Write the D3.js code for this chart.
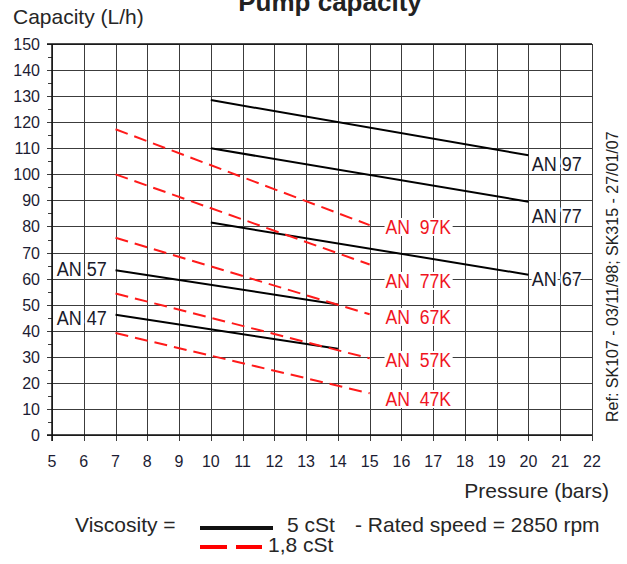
<!DOCTYPE html>
<html>
<head>
<meta charset="utf-8">
<script src="https://cdn.jsdelivr.net/npm/d3@7"></script>
<style>
  body { margin: 0; background: #fff; }
  svg { display: block; font-family: "Liberation Sans", Arial, sans-serif; }
  .grid line { stroke: #3c3c3c; stroke-width: 1; shape-rendering: crispEdges; }
  .tick-label { font-size: 16px; fill: #1c1c33; }
  .lab5 { font-size: 20px; fill: #1a1a2a; stroke: #fff; stroke-width: 5px; paint-order: stroke; stroke-linejoin: round; }
  .lab18 { font-size: 20px; fill: #f0141e; white-space: pre; }
  .txt { font-size: 21px; fill: #262626; }
</style>
</head>
<body>
<div class="chart"></div>
<script>
// 5 cSt (solid black)
const models5 = ["AN 97", "AN 77", "AN 67", "AN 57", "AN 47"];
const p5From = [10, 10, 10, 7, 7];
const p5To = [20, 20, 20, 14, 14];
const q5From = [128.5, 110, 81.5, 63.2, 46.1];
const q5To = [107.3, 89.5, 61.5, 50.1, 33.1];
const lab5X = [20.1, 20.1, 20.1, 5.15, 5.15];
const lab5Y = [104.1, 84.1, 59.8, 63.6, 44.9];

// 1,8 cSt (red dashed)
const models18 = ["AN  97K", "AN  77K", "AN  67K", "AN  57K", "AN  47K"];
const p18From = [7, 7, 7, 7, 7];
const p18To = [15, 15, 15, 15, 15];
const q18From = [117.3, 100, 75.7, 54.3, 39.1];
const q18To = [80.5, 65.4, 46.3, 29.4, 16.0];
const lab18X = [15.5, 15.5, 15.5, 15.5, 15.5];
const lab18Y = [79.8, 59.1, 45.3, 28.8, 13.8];

const xTicks = d3.range(5, 23, 1);
const yTicks = d3.range(0, 151, 10);
const yMinor = d3.range(5, 150, 10);

const width = 627, height = 564;
const x = d3.scaleLinear().domain([5, 22]).range([52, 592]);
const y = d3.scaleLinear().domain([0, 150]).range([435, 44]);

const svg = d3.select(".chart").append("svg")
    .attr("width", width)
    .attr("height", height);

// grid
const grid = svg.append("g").attr("class", "grid");
grid.selectAll("line.v")
    .data(xTicks)
  .enter().append("line")
    .attr("class", "v")
    .attr("x1", d => Math.round(x(d)) + .5).attr("x2", d => Math.round(x(d)) + .5)
    .attr("y1", y(150)).attr("y2", y(0) + 6);
grid.selectAll("line.h")
    .data(yTicks)
  .enter().append("line")
    .attr("class", "h")
    .attr("y1", d => Math.round(y(d)) + .5).attr("y2", d => Math.round(y(d)) + .5)
    .attr("x1", x(5) - 5).attr("x2", x(22));
grid.selectAll("line.m")
    .data(yMinor)
  .enter().append("line")
    .attr("class", "m")
    .attr("y1", d => Math.round(y(d)) + .5).attr("y2", d => Math.round(y(d)) + .5)
    .attr("x1", x(5) - 4).attr("x2", x(5));

// frame lines a bit heavier
svg.append("line").attr("x1", x(5)).attr("x2", x(5)).attr("y1", y(150)).attr("y2", y(0) + 6)
    .attr("stroke", "#111").attr("stroke-width", 1.5);
svg.append("line").attr("x1", x(5) - 5).attr("x2", x(22)).attr("y1", y(0)).attr("y2", y(0))
    .attr("stroke", "#111").attr("stroke-width", 1.5);
svg.append("line").attr("x1", x(5) - 5).attr("x2", x(22)).attr("y1", y(150)).attr("y2", y(150))
    .attr("stroke", "#111").attr("stroke-width", 1.5);

// tick labels
svg.selectAll("text.xt")
    .data(xTicks)
  .enter().append("text")
    .attr("class", "tick-label xt")
    .attr("x", d => x(d))
    .attr("y", 467)
    .attr("text-anchor", "middle")
    .text(d => d);
svg.selectAll("text.yt")
    .data(yTicks)
  .enter().append("text")
    .attr("class", "tick-label yt")
    .attr("x", 40)
    .attr("y", d => y(d) + 6)
    .attr("text-anchor", "end")
    .text(d => d);

// series
const lines5 = models5.map((m, i) => ({ name: m, a: [p5From[i], q5From[i]], b: [p5To[i], q5To[i]] }));
const lines18 = models18.map((m, i) => ({ name: m, a: [p18From[i], q18From[i]], b: [p18To[i], q18To[i]] }));

svg.selectAll("line.s5")
    .data(lines5)
  .enter().append("line")
    .attr("class", "s5")
    .attr("x1", d => x(d.a[0])).attr("y1", d => y(d.a[1]))
    .attr("x2", d => x(d.b[0])).attr("y2", d => y(d.b[1]))
    .attr("stroke", "#000").attr("stroke-width", 2);

svg.selectAll("line.s18")
    .data(lines18)
  .enter().append("line")
    .attr("class", "s18")
    .attr("x1", d => x(d.a[0])).attr("y1", d => y(d.a[1]))
    .attr("x2", d => x(d.b[0])).attr("y2", d => y(d.b[1]))
    .attr("stroke", "#ff1a1a").attr("stroke-width", 2)
    .attr("stroke-dasharray", "13,7");

// labels (glyphs a touch narrower than the font, like the original)
function squeeze(sel, k){
  sel.each(function(){
    const w = this.getComputedTextLength();
    d3.select(this).attr("textLength", w * k).attr("lengthAdjust", "spacingAndGlyphs");
  });
}

svg.selectAll("text.lab5")
    .data(models5)
  .enter().append("text")
    .attr("class", "lab5")
    .attr("x", (d, i) => x(lab5X[i]))
    .attr("y", (d, i) => y(lab5Y[i]) + 7)
    .text(d => d)
    .call(squeeze, 0.9);

const lab18 = svg.selectAll("g.lab18")
    .data(models18)
  .enter().append("g")
    .attr("class", "lab18g");
lab18.append("text")
    .attr("class", "lab18")
    .attr("x", (d, i) => x(lab18X[i]))
    .attr("y", (d, i) => y(lab18Y[i]) + 7)
    .text(d => d)
    .call(squeeze, 0.88);
lab18.insert("rect", "text")
    .each(function(){
      const bb = this.parentNode.querySelector("text").getBBox();
      d3.select(this)
          .attr("x", bb.x - 1).attr("y", bb.y + 2)
          .attr("width", bb.width + 2).attr("height", bb.height - 4)
          .attr("fill", "#fff");
    });

// titles
svg.append("text")
    .attr("x", 330).attr("y", 11)
    .attr("text-anchor", "middle")
    .attr("font-size", 26).attr("font-weight", "bold").attr("fill", "#222")
    .text("Pump capacity");
svg.append("text").attr("class", "txt")
    .attr("x", 13).attr("y", 24)
    .text("Capacity (L/h)");
svg.append("text").attr("class", "txt")
    .attr("x", 609).attr("y", 498)
    .attr("text-anchor", "end")
    .text("Pressure (bars)");
svg.append("text")
    .attr("transform", "translate(618,422) rotate(-90)")
    .attr("font-size", 16).attr("fill", "#222")
    .text("Ref: SK107 - 03/11/98; SK315 - 27/01/07");

// legend
svg.append("text").attr("class", "txt").attr("x", 75).attr("y", 532).text("Viscosity =");
svg.append("line").attr("x1", 200).attr("x2", 273).attr("y1", 528).attr("y2", 528)
    .attr("stroke", "#111").attr("stroke-width", 4);
svg.append("text").attr("class", "txt").attr("x", 287).attr("y", 532).text("5 cSt");
svg.append("text").attr("class", "txt").attr("x", 355).attr("y", 532).text("- Rated speed = 2850 rpm");
svg.append("line").attr("x1", 200).attr("x2", 262).attr("y1", 547).attr("y2", 547)
    .attr("stroke", "#ff0000").attr("stroke-width", 4).attr("stroke-dasharray", "27,9");
svg.append("text").attr("class", "txt").attr("x", 268).attr("y", 552).text("1,8 cSt");
</script>
</body>
</html>
